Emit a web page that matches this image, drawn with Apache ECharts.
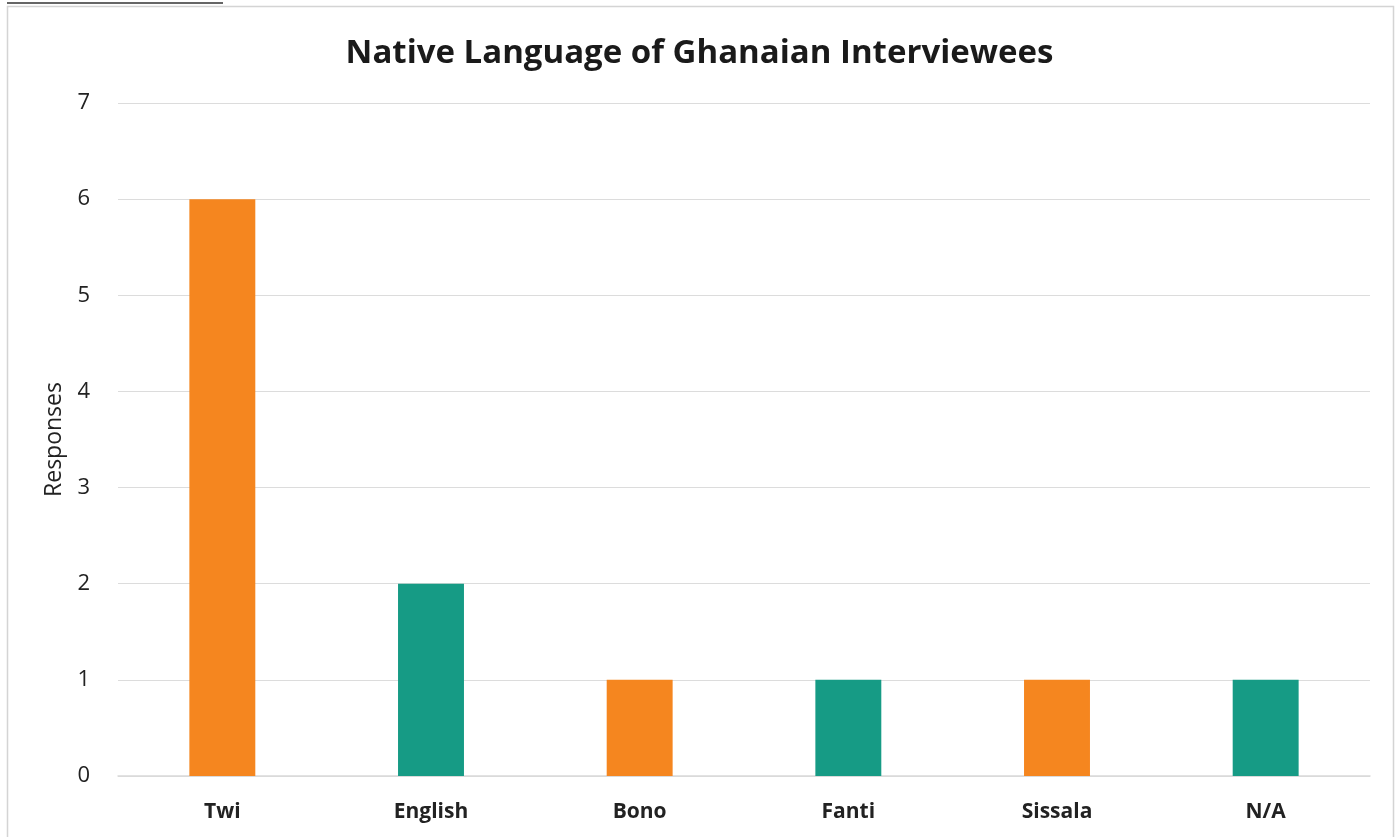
<!DOCTYPE html>
<html>
<head>
<meta charset="utf-8">
<script src="https://cdn.jsdelivr.net/npm/echarts@6/dist/echarts.min.js"></script>
<style>
  html, body { margin: 0; padding: 0; background: #fff; }
  #chart { width: 1399px; height: 837px; }
</style>
</head>
<body>
<div id="chart"></div>
<script>
// Native languages reported by interviewees
const languages = ['Twi', 'English', 'Bono', 'Fanti', 'Sissala', 'N/A'];
const responses = [6, 2, 1, 1, 1, 1];
const yTicks = [0, 1, 2, 3, 4, 5, 6, 7];

const ORANGE = '#F5861F';
const TEAL = '#169B85';

const chart = echarts.init(document.getElementById('chart'));
chart.setOption({
  backgroundColor: '#fff',
  animation: false,
  title: {
    text: 'Native Language of Ghanaian Interviewees',
    left: 'center',
    top: 32,
    textStyle: {
      fontFamily: 'Open Sans',
      fontWeight: 'bold',
      fontSize: 33,
      color: '#1a1a1a'
    }
  },
  grid: { left: 118, right: 29, top: 103, bottom: 61 },
  xAxis: {
    type: 'category',
    data: languages,
    axisTick: { show: false },
    axisLine: { lineStyle: { color: '#d9d9d9', width: 1.5 } },
    axisLabel: {
      margin: 26,
      fontFamily: 'Open Sans',
      fontWeight: 'bold',
      fontSize: 21,
      color: '#222'
    }
  },
  yAxis: {
    type: 'value',
    min: yTicks[0],
    max: yTicks[yTicks.length - 1],
    interval: 1,
    name: 'Responses',
    nameLocation: 'middle',
    nameGap: 52,
    nameTextStyle: { fontFamily: 'Open Sans', fontSize: 23, color: '#222' },
    axisLine: { show: false },
    axisTick: { show: false },
    axisLabel: { margin: 28, fontFamily: 'Open Sans', fontSize: 22, color: '#222' },
    splitLine: { lineStyle: { color: '#dcdcdc', width: 1 } }
  },
  series: [{
    type: 'bar',
    barWidth: '31.6%',
    data: responses.map((v, i) => ({
      value: v,
      itemStyle: { color: i % 2 === 0 ? ORANGE : TEAL }
    }))
  }],
  graphic: [
    {
      type: 'rect',
      shape: { x: 7.5, y: 6.5, width: 1386, height: 900 },
      style: { fill: 'none', stroke: '#d4d4d4', lineWidth: 1.5 },
      silent: true
    },
    {
      type: 'line',
      shape: { x1: 7, y1: 3, x2: 223, y2: 3 },
      style: { stroke: '#666', lineWidth: 2 },
      silent: true
    }
  ]
});
</script>
</body>
</html>
